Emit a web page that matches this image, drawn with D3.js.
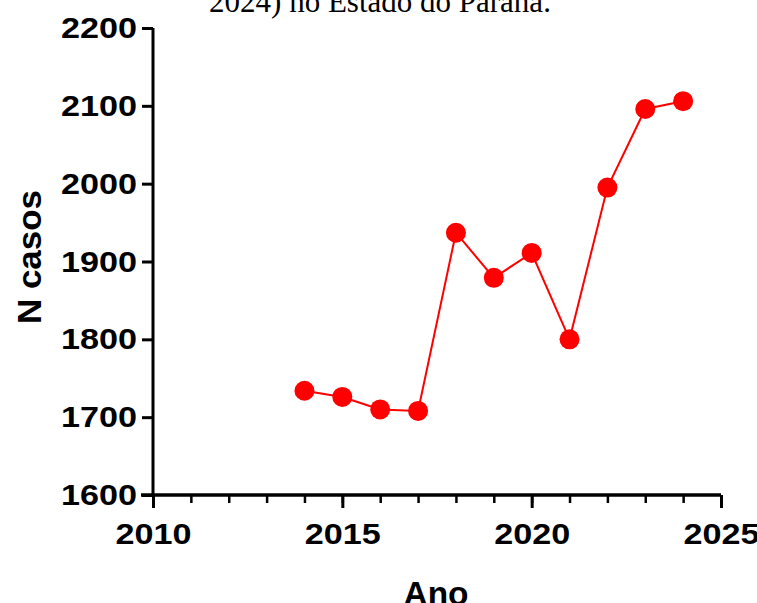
<!DOCTYPE html>
<html>
<head>
<meta charset="utf-8">
<script src="https://cdn.jsdelivr.net/npm/d3@7"></script>
<style>
  body { margin: 0; background: #fff; }
  svg { display: block; }
</style>
</head>
<body>
<div id="chart"></div>
<script>
// Data
const years = [2014, 2015, 2016, 2017, 2018, 2019, 2020, 2021, 2022, 2023, 2024];
const cases = [1734, 1726, 1710, 1708, 1937, 1879, 1911, 1800, 1995, 2096, 2106];
const yTicks = [1600, 1700, 1800, 1900, 2000, 2100, 2200];
const xTicks = [2010, 2015, 2020, 2025];
const titleText = "2024) no Estado do Paraná.";

const width = 757;
const height = 603;

const svg = d3.select("#chart").append("svg")
    .attr("width", width)
    .attr("height", height);

const x = d3.scaleLinear().domain([2010, 2025]).range([153, 721]);
const y = d3.scaleLinear().domain([1600, 2200]).range([495, 28]);

const labelFont = "'Liberation Sans', Arial, sans-serif";

// Title (cut off at top)
svg.append("text")
    .attr("x", 380)
    .attr("y", 12)
    .attr("text-anchor", "middle")
    .attr("font-family", "'Liberation Serif', 'Times New Roman', serif")
    .attr("font-size", 31)
    .text(titleText);

// Y axis
const yAxis = svg.append("g")
    .attr("transform", `translate(${x(2010)},0)`)
    .call(d3.axisLeft(y).tickValues(yTicks).tickSize(11).tickPadding(5).tickFormat(d3.format("d")));

// X axis - minor ticks each year
const xAxisMinor = svg.append("g")
    .attr("transform", `translate(0,${y(1600)})`)
    .call(d3.axisBottom(x).tickValues(d3.range(2010, 2026)).tickSize(8).tickFormat(""));

const xAxis = svg.append("g")
    .attr("transform", `translate(0,${y(1600)})`)
    .call(d3.axisBottom(x).tickValues(xTicks).tickSize(13).tickPadding(15).tickFormat(d3.format("d")));

[yAxis, xAxis, xAxisMinor].forEach(g => {
    g.select(".domain").attr("stroke", "#000").attr("stroke-width", 3);
    g.selectAll(".tick line").attr("stroke", "#000").attr("stroke-width", 3);
    g.selectAll(".tick text")
        .attr("font-family", labelFont)
        .attr("font-weight", "bold")
        .attr("font-size", 30)
        .attr("textLength", 76)
        .attr("lengthAdjust", "spacingAndGlyphs")
        .attr("fill", "#000");
});
xAxisMinor.selectAll(".tick line").attr("stroke-width", 2.5);
// x axis extends a bit left past y axis
xAxis.select(".domain").attr("d", `M${x(2010) - 12},0H${x(2025)}`);
xAxisMinor.select(".domain").attr("d", `M${x(2010) - 12},0H${x(2025)}`);
yAxis.select(".domain").attr("d", `M0,${y(2200)}V${y(1600)}`);

// Axis titles
svg.append("text")
    .attr("transform", `translate(41,257) rotate(-90)`)
    .attr("text-anchor", "middle")
    .attr("font-family", labelFont)
    .attr("font-weight", "bold")
    .attr("font-size", 33)
    .attr("textLength", 134)
    .attr("lengthAdjust", "spacingAndGlyphs")
    .text("N casos");

svg.append("text")
    .attr("x", 436)
    .attr("y", 605)
    .attr("text-anchor", "middle")
    .attr("font-family", labelFont)
    .attr("font-weight", "bold")
    .attr("font-size", 33)
    .attr("textLength", 65)
    .attr("lengthAdjust", "spacingAndGlyphs")
    .text("Ano");

// Line and points
const pts = years.map((yr, i) => [yr, cases[i]]);
svg.append("path")
    .datum(pts)
    .attr("fill", "none")
    .attr("stroke", "#ff0000")
    .attr("stroke-width", 2)
    .attr("d", d3.line().x(d => x(d[0])).y(d => y(d[1])));

svg.selectAll("circle.pt")
    .data(pts)
    .enter()
    .append("circle")
    .attr("class", "pt")
    .attr("cx", d => x(d[0]))
    .attr("cy", d => y(d[1]))
    .attr("r", 10)
    .attr("fill", "#ff0000");
</script>
</body>
</html>
